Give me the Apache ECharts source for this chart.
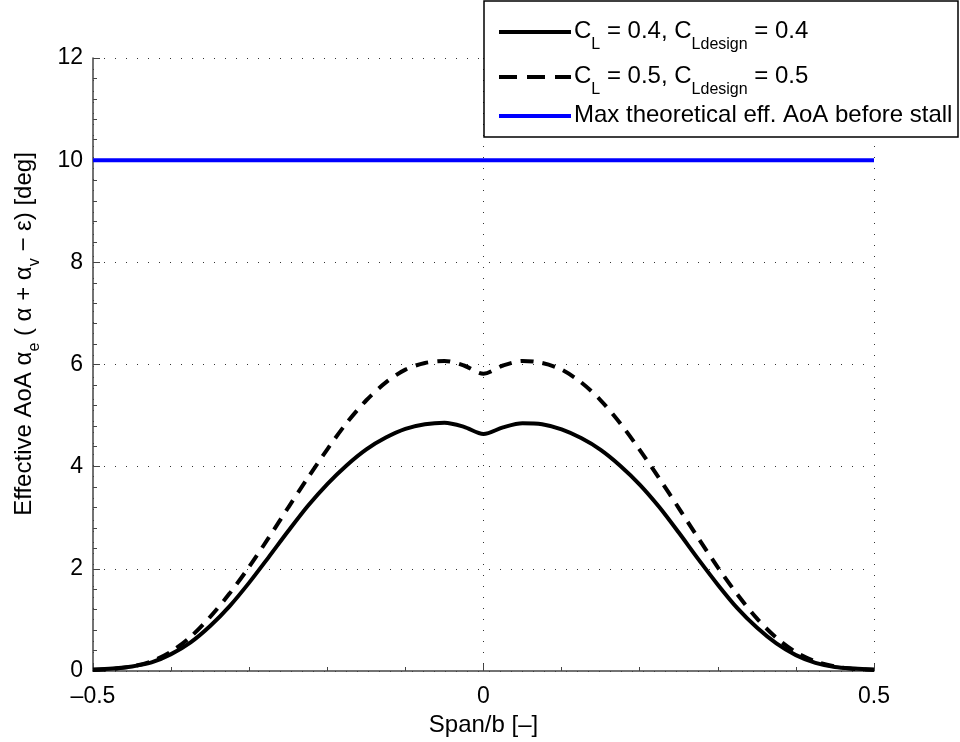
<!DOCTYPE html>
<html>
<head>
<meta charset="utf-8">
<script src="https://cdn.jsdelivr.net/npm/echarts@6/dist/echarts.min.js"></script>
<style>
html,body{margin:0;padding:0;background:#fff;}
#chart{width:960px;height:742px;}
</style>
</head>
<body>
<div id="chart"></div>
<script>
// ---- data ----
const spanX = [-0.5, -0.475, -0.45, -0.425, -0.4, -0.375, -0.35, -0.325, -0.3, -0.275,
  -0.25, -0.225, -0.2, -0.175, -0.15, -0.125, -0.1, -0.075, -0.05, -0.025,
  0, 0.025, 0.05, 0.075, 0.1, 0.125, 0.15, 0.175, 0.2, 0.225,
  0.25, 0.275, 0.3, 0.325, 0.35, 0.375, 0.4, 0.425, 0.45, 0.475, 0.5];
const aoaCL04 = [0.03, 0.05, 0.09, 0.17, 0.33, 0.56, 0.88, 1.27, 1.73, 2.23,
  2.74, 3.23, 3.66, 4.03, 4.34, 4.57, 4.74, 4.83, 4.86, 4.78,
  4.64, 4.77, 4.85, 4.83, 4.73, 4.56, 4.33, 4.02, 3.65, 3.21,
  2.71, 2.19, 1.69, 1.23, 0.85, 0.54, 0.31, 0.16, 0.08, 0.05, 0.03];
const aoaCL05 = [0.02, 0.04, 0.09, 0.19, 0.38, 0.67, 1.06, 1.52, 2.04, 2.61,
  3.2, 3.78, 4.34, 4.86, 5.3, 5.65, 5.9, 6.03, 6.07, 5.98,
  5.82, 5.98, 6.07, 6.03, 5.9, 5.65, 5.3, 4.85, 4.33, 3.77,
  3.19, 2.6, 2.03, 1.5, 1.03, 0.65, 0.37, 0.19, 0.09, 0.04, 0.02];
const stallX = [-0.5, 0.5];
const stallAoA = [10, 10];
const xTicks = [-0.5, 0, 0.5];
const yTicks = [0, 2, 4, 6, 8, 10, 12];

// ---- helpers ----
const FONT = '"Liberation Sans", Arial, Helvetica, sans-serif';
const cv = document.createElement('canvas').getContext('2d');
function tw(text, size) { cv.font = size + 'px ' + FONT; return cv.measureText(text).width; }
function pairs(xs, ys) { return xs.map((x, i) => [x, ys[i]]); }

function richPieces(parts, x0, y0, size, subSize, subShift, z) {
  const els = [];
  let x = x0;
  parts.forEach(p => {
    const sub = p[1];
    const s = sub ? subSize : size;
    els.push({
      type: 'text', z: z, silent: true,
      style: { text: p[0], x: x, y: y0 + (sub ? subShift : 0), fill: '#000',
        fontSize: s, fontFamily: FONT, align: 'left', verticalAlign: 'middle' }
    });
    x += tw(p[0], s);
  });
  return { els: els, width: x - x0 };
}

const chart = echarts.init(document.getElementById('chart'), null, { renderer: 'canvas' });

const gridL = 93, gridR = 86, gridT = 58, gridB = 71;

// legend
const legX = 484, legY = 1, legW = 474, legH = 136;
const legendEls = [];
legendEls.push({ type: 'rect', z: 100, silent: true,
  shape: { x: legX, y: legY, width: legW, height: legH },
  style: { fill: '#fff', stroke: '#000', lineWidth: 1.5 } });
const rows = [
  { y: 32, dash: null, color: '#000', parts: [['C', 0], ['L', 1], [' = 0.4, C', 0], ['Ldesign', 1], [' = 0.4', 0]] },
  { y: 77, dash: [18, 10], color: '#000', parts: [['C', 0], ['L', 1], [' = 0.5, C', 0], ['Ldesign', 1], [' = 0.5', 0]] },
  { y: 116, dash: null, color: '#0000ff', parts: [['Max theoretical eff. AoA before stall', 0]] }
];
rows.forEach(r => {
  legendEls.push({ type: 'line', z: 101, silent: true,
    shape: { x1: 499, y1: r.y, x2: 571, y2: r.y },
    style: { stroke: r.color, lineWidth: 4, lineDash: r.dash } });
  const rp = richPieces(r.parts, 574, r.y - 1, 24, 16, 14, 101);
  rp.els.forEach(e => legendEls.push(e));
});

// y-axis title with subscripts, rotated
const yParts = [['Effective AoA \u03b1', 0], ['e', 1], [' ( \u03b1 + \u03b1', 0], ['v', 1], [' \u2212 \u03b5) [deg]', 0]];
const yp = richPieces(yParts, 0, 0, 24, 16, 11, 10);
const shift = -yp.width / 2;
yp.els.forEach(e => { e.style.x += shift; });
const yTitle = { type: 'group', x: 24, y: 334, rotation: Math.PI / 2, children: yp.els };

const option = {
  backgroundColor: '#fff',
  animation: false,
  grid: { left: gridL, right: gridR, top: gridT, bottom: gridB },
  xAxis: {
    type: 'value', min: xTicks[0], max: xTicks[xTicks.length - 1], interval: xTicks[1] - xTicks[0],
    name: 'Span/b [\u2013]', nameLocation: 'middle', nameGap: 42,
    nameTextStyle: { fontSize: 24, fontFamily: FONT, color: '#000' },
    axisLine: { show: true, onZero: false, lineStyle: { color: '#444', width: 1.5 } },
    axisTick: { show: true, inside: true, length: 7, lineStyle: { color: '#444' } },
    minorTick: { show: true, splitNumber: 5, length: 4, lineStyle: { color: '#444' } },
    axisLabel: { fontSize: 23, fontFamily: FONT, color: '#000', margin: 14,
      formatter: v => (v < 0 ? '\u2013' + Math.abs(v) : String(v)) },
    splitLine: { show: true, lineStyle: { color: '#333', type: [1, 10], width: 1 } }
  },
  yAxis: {
    type: 'value', min: yTicks[0], max: yTicks[yTicks.length - 1], interval: yTicks[1] - yTicks[0],
    axisLine: { show: true, onZero: false, lineStyle: { color: '#444', width: 1.5 } },
    axisTick: { show: true, inside: true, length: 7, lineStyle: { color: '#444' } },
    minorTick: { show: true, splitNumber: 5, length: 4, lineStyle: { color: '#444' } },
    axisLabel: { fontSize: 23, fontFamily: FONT, color: '#000', margin: 10 },
    splitLine: { show: true, lineStyle: { color: '#333', type: [1, 10], width: 1 } }
  },
  series: [
    { name: 'CL04', type: 'line', data: pairs(spanX, aoaCL04), showSymbol: false, smooth: 0.3,
      lineStyle: { color: '#000', width: 4 }, z: 3 },
    { name: 'CL05', type: 'line', data: pairs(spanX, aoaCL05), showSymbol: false, smooth: 0.3,
      lineStyle: { color: '#000', width: 4, type: [13, 9] }, z: 3 },
    { name: 'stall', type: 'line', data: pairs(stallX, stallAoA), showSymbol: false,
      lineStyle: { color: '#0000ff', width: 4 }, z: 3 }
  ],
  graphic: legendEls.concat([yTitle])
};
chart.setOption(option);
</script>
</body>
</html>
